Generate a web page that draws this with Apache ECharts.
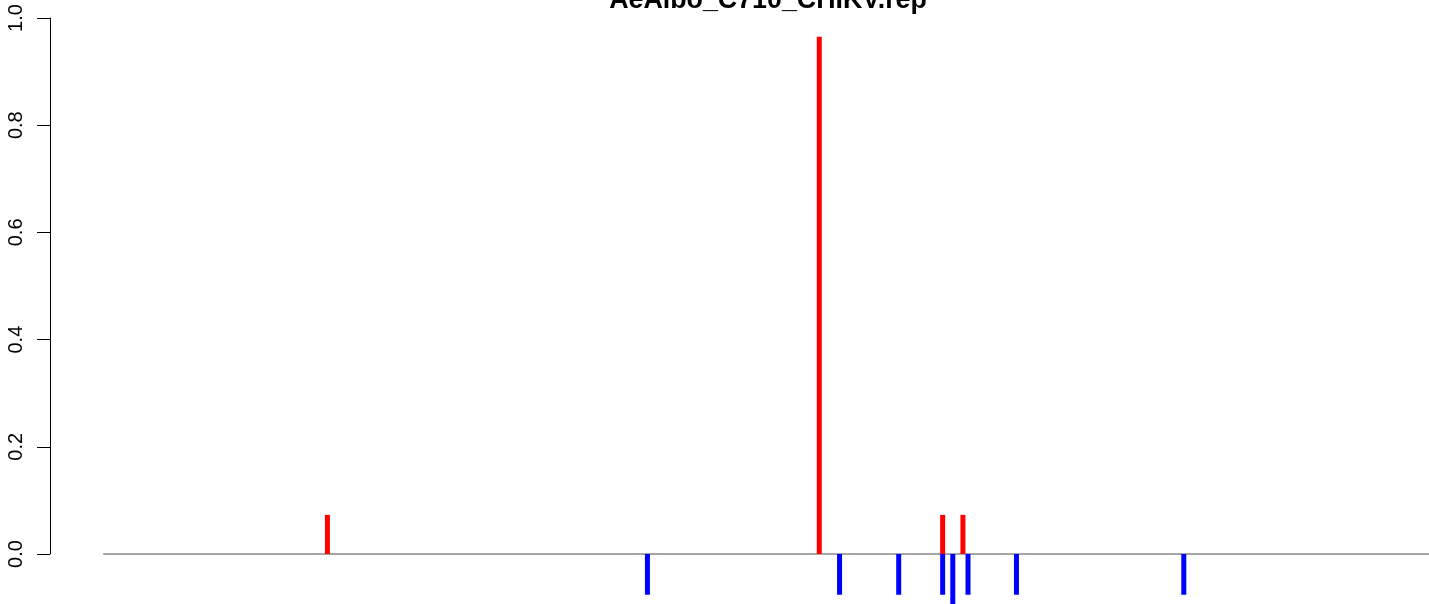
<!DOCTYPE html>
<html>
<head>
<meta charset="utf-8">
<script src="https://cdn.jsdelivr.net/npm/echarts@6/dist/echarts.min.js"></script>
<style>
html,body{margin:0;padding:0;background:#fff;}
#chart{width:1429px;height:604px;}
</style>
</head>
<body>
<div id="chart"></div>
<script>
// ---- data ----
var titleText = "AeAlbo_C710_CHIKV.rep";
var genomeLength = 11800;
var redPositions = [1990, 6355, 7450, 7630];
var redValues = [0.073, 0.965, 0.073, 0.073];
var bluePositions = [4830, 6535, 7060, 7450, 7540, 7675, 8105, 9590];
var blueValues = [-0.076, -0.076, -0.076, -0.076, -0.095, -0.076, -0.076, -0.076];
var yTicks = [0, 0.2, 0.4, 0.6, 0.8, 1.0];

function pairs(xs, ys) { return xs.map(function (x, i) { return [x, ys[i]]; }); }

var pad = 0.04 * genomeLength;
var chart = echarts.init(document.getElementById('chart'), null, {renderer: 'canvas'});
var font = 'Liberation Sans, Arial, Helvetica, sans-serif';

chart.setOption({
  animation: false,
  backgroundColor: '#ffffff',
  grid: [
    {left: 50, top: 18, width: 1436, height: 536, containLabel: false, outerBoundsMode: 'none'},
    {left: 50, top: 18, width: 1436, height: 643.2, containLabel: false, outerBoundsMode: 'none'}
  ],
  xAxis: [
    {gridIndex: 0, type: 'value', min: 0, max: 1, show: false},
    {gridIndex: 1, type: 'value', min: -pad, max: genomeLength + pad, show: false}
  ],
  yAxis: [
    {
      gridIndex: 0, type: 'value', min: yTicks[0], max: yTicks[yTicks.length - 1], interval: 0.2,
      axisLine: {show: true, lineStyle: {color: '#000', width: 1}},
      axisTick: {show: true, length: 13, lineStyle: {color: '#000', width: 1}},
      splitLine: {show: false},
      axisLabel: {
        rotate: 90, margin: 24, color: '#000', fontSize: 20, fontFamily: font,
        formatter: function (v) { return v.toFixed(1); }
      }
    },
    {gridIndex: 1, type: 'value', min: -0.2, max: 1, show: false}
  ],
  series: [
    {
      type: 'line', xAxisIndex: 1, yAxisIndex: 1,
      data: [[0, 0], [genomeLength, 0]],
      symbol: 'none', silent: true, clip: false,
      lineStyle: {color: '#888888', width: 1.5}, z: 1
    },
    {
      type: 'bar', xAxisIndex: 1, yAxisIndex: 1, name: 'plus',
      data: pairs(redPositions, redValues),
      barWidth: 5, barGap: '-100%', clip: false,
      itemStyle: {color: '#ff0000'}, z: 2
    },
    {
      type: 'bar', xAxisIndex: 1, yAxisIndex: 1, name: 'minus',
      data: pairs(bluePositions, blueValues),
      barWidth: 5, barGap: '-100%', clip: false,
      itemStyle: {color: '#0000ff'}, z: 2
    }
  ],
  graphic: [
    {
      type: 'text', x: 768, y: 1, silent: true,
      style: {
        text: titleText, x: 0, y: 0, align: 'center', verticalAlign: 'middle',
        font: 'bold 26.8px ' + font, fill: '#000'
      }
    }
  ]
});
</script>
</body>
</html>
